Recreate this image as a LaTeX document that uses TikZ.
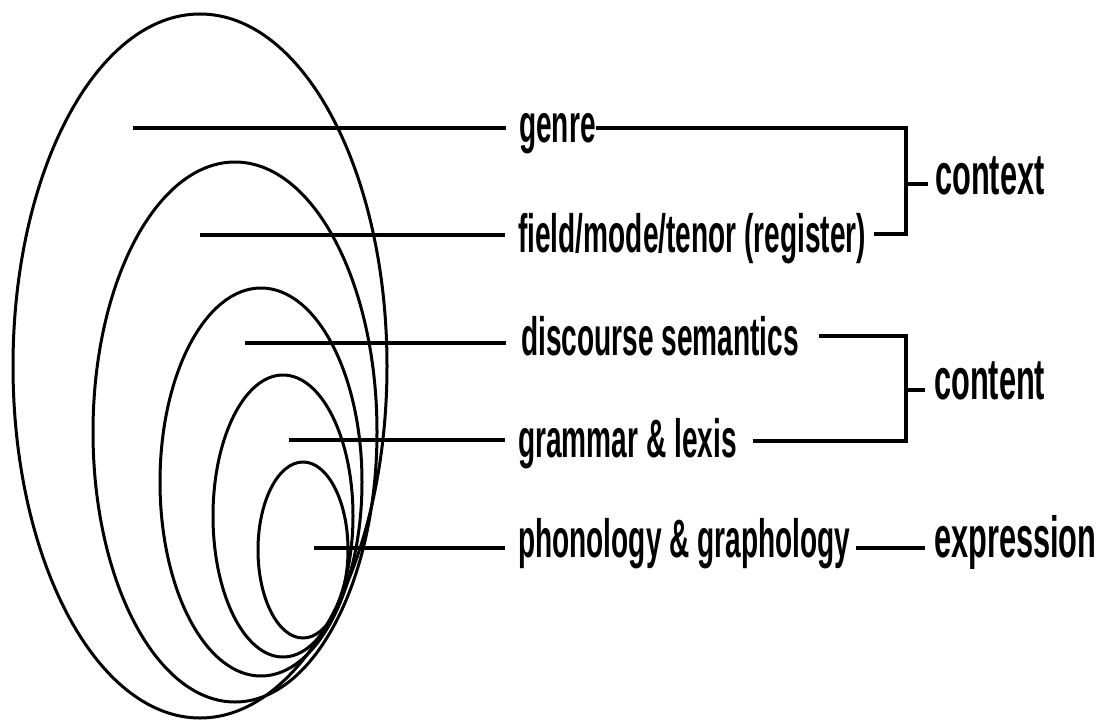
\documentclass[tikz,border=0pt]{standalone}
\usepackage{fontspec}
\newfontfamily\labfont{Liberation Sans}[FakeStretch=0.52]
\newfontfamily\catfont{Liberation Sans}[FakeStretch=0.53]
\begin{document}
\begin{tikzpicture}[x=1pt,y=-1pt,
  oval/.style={line width=3pt},
  conn/.style={line width=4pt},
  lab/.style={anchor=base west, inner sep=0pt, font=\labfont\bfseries\fontsize{54}{60}\selectfont},
  cat/.style={anchor=base west, inner sep=0pt, font=\catfont\bfseries\fontsize{58}{64}\selectfont}]
\useasboundingbox (0,0) rectangle (1103,728);
\fill[white] (0,0) rectangle (1103,728);
% ovals (nested, meeting at the lower right)
\coordinate (e1) at (200,366);
\coordinate (e2) at (235,432);
\coordinate (e3) at (261,482);
\coordinate (e4) at (283,516);
\coordinate (e5) at (303,550);
\draw[oval] (e1) ellipse [x radius=187, y radius=352];
\draw[oval] (e2) ellipse [x radius=142, y radius=270];
\draw[oval] (e3) ellipse [x radius=101, y radius=194];
\draw[oval] (e4) ellipse [x radius=70, y radius=141];
\draw[oval] (e5) ellipse [x radius=45, y radius=88];
% labels
\node[lab] (genre) at (519,142) {genre};
\node[lab] (field) at (518,252) {field/mode/tenor (register)};
\node[lab] (disc) at (521,355) {discourse semantics};
\node[lab] (gram) at (518,457) {grammar \& lexis};
\node[lab] (phon) at (518,557) {phonology \& graphology};
\node[cat] (context) at (935,194) {context};
\node[cat] (content) at (934,399) {content};
\node[cat] (expr) at (934,557) {expression};
% inner ends of the leader lines
\coordinate (p1) at (133,128);
\coordinate (p2) at (200,235);
\coordinate (p3) at (245,343);
\coordinate (p4) at (289,440);
\coordinate (p5) at (314,548);
\draw[conn, shorten >=13pt] (p1) -- (p1 -| genre.west);
\draw[conn, shorten >=13pt] (p2) -- (p2 -| field.west);
\draw[conn, shorten >=15pt] (p3) -- (p3 -| disc.west);
\draw[conn, shorten >=13pt] (p4) -- (p4 -| gram.west);
\draw[conn, shorten >=13pt] (p5) -- (p5 -| phon.west);
% brackets
\coordinate (k1) at (906,128);
\coordinate (k1b) at (906,234);
\coordinate (k1c) at (906,184);
\draw[conn] ([xshift=8pt]field.east |- k1b) -- (k1b) -- (k1) -- (genre.east |- k1);
\draw[conn, shorten >=7pt] (k1c) -- (context.west |- k1c);
\coordinate (k2) at (906,336);
\coordinate (k2b) at (906,441);
\coordinate (k2c) at (906,390);
\draw[conn] ([xshift=16pt]gram.east |- k2b) -- (k2b) -- (k2) -- ([xshift=20pt]disc.east |- k2);
\draw[conn, shorten >=9pt] (k2c) -- (content.west |- k2c);
\coordinate (k3) at (855,548);
\draw[conn, shorten >=9pt] (phon.east |- k3) ++(5,0) -- (expr.west |- k3);
\end{tikzpicture}
\end{document}
